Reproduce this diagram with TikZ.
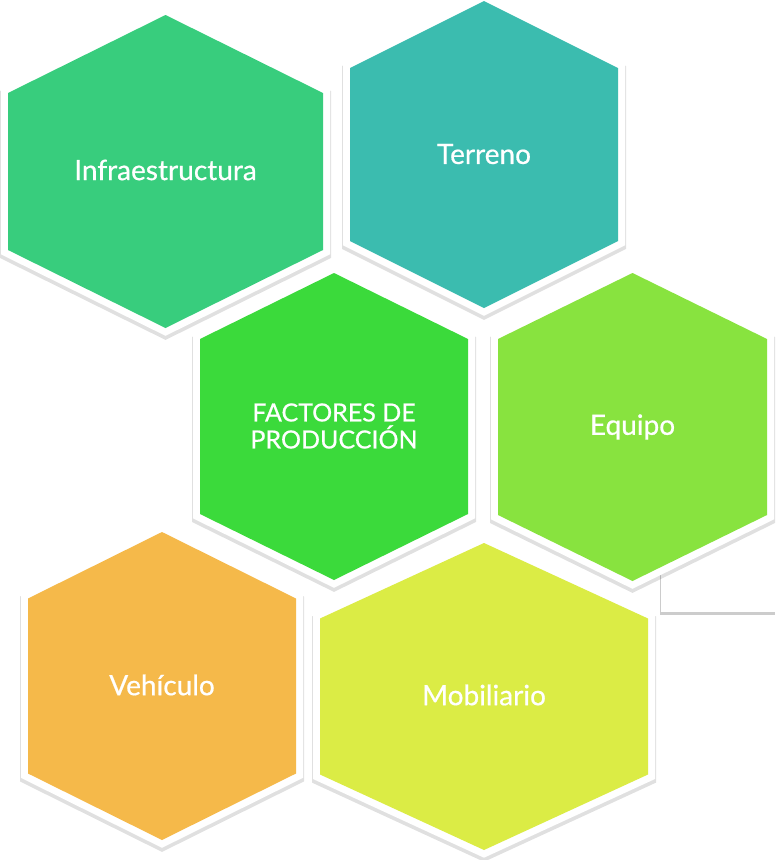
\documentclass[tikz,border=0pt]{standalone}
\usepackage{fontspec}
\setmainfont{Lato}
\newfontfamily\hexfont{Lato}[FakeBold=0.6]

\definecolor{infracol}{RGB}{56,205,125}
\definecolor{terrenocol}{RGB}{59,188,175}
\definecolor{factorcol}{RGB}{59,218,59}
\definecolor{equipocol}{RGB}{136,227,63}
\definecolor{vehicol}{RGB}{245,185,74}
\definecolor{mobilcol}{RGB}{219,236,69}

% hexagon: centre x, centre y, half width, half height, corner offset
\newcommand{\hexpath}[5]{(#1,#2-#4) -- (#1+#3,#2-#5) -- (#1+#3,#2+#5)
  -- (#1,#2+#4) -- (#1-#3,#2+#5) -- (#1-#3,#2-#5) -- cycle}

\tikzset{
  hexa/.style={fill=#1,
    preaction={draw=black, opacity=0.12, line width=16pt,
      transform canvas={yshift=-3pt}},
    preaction={draw=white, line width=14pt}},
  hextext/.style={text=white, font=\hexfont\fontsize{28}{32}\selectfont},
}

\begin{document}
\begin{tikzpicture}[x=1pt,y=-1pt]
  \useasboundingbox (0,0) rectangle (776,860);

  % box behind Equipo
  \fill[white, preaction={fill=black, opacity=0.2,
      transform canvas={xshift=-1pt,yshift=-3pt}}]
    (661,541) rectangle (776,612);

  \path[hexa=infracol] \hexpath{165.5}{171.5}{157.5}{156.5}{78.5};
  \path[hexa=terrenocol] \hexpath{484}{154.5}{134}{153.5}{86.5};
  \path[hexa=factorcol] \hexpath{334}{426.5}{134}{153.5}{87.5};
  \path[hexa=equipocol] \hexpath{632.5}{427}{134.5}{154}{88};
  \path[hexa=vehicol] \hexpath{162}{686}{134}{154}{87.5};
  \path[hexa=mobilcol] \hexpath{484}{696.5}{164}{153.5}{78};

  \node[hextext] (infra) at (165.5,170) {Infraestructura};
  \node[hextext] (terreno) at (484,154) {Terreno};
  \node[hextext, align=center, font=\hexfont\fontsize{25}{27}\selectfont]
    (factores) at (334,426) {FACTORES DE\\PRODUCCIÓN};
  \node[hextext] (equipo) at (632.5,427) {Equipo};
  \node[hextext] (vehiculo) at (162,685) {Vehículo};
  \node[hextext] (mobiliario) at (484,695) {Mobiliario};
\end{tikzpicture}
\end{document}
